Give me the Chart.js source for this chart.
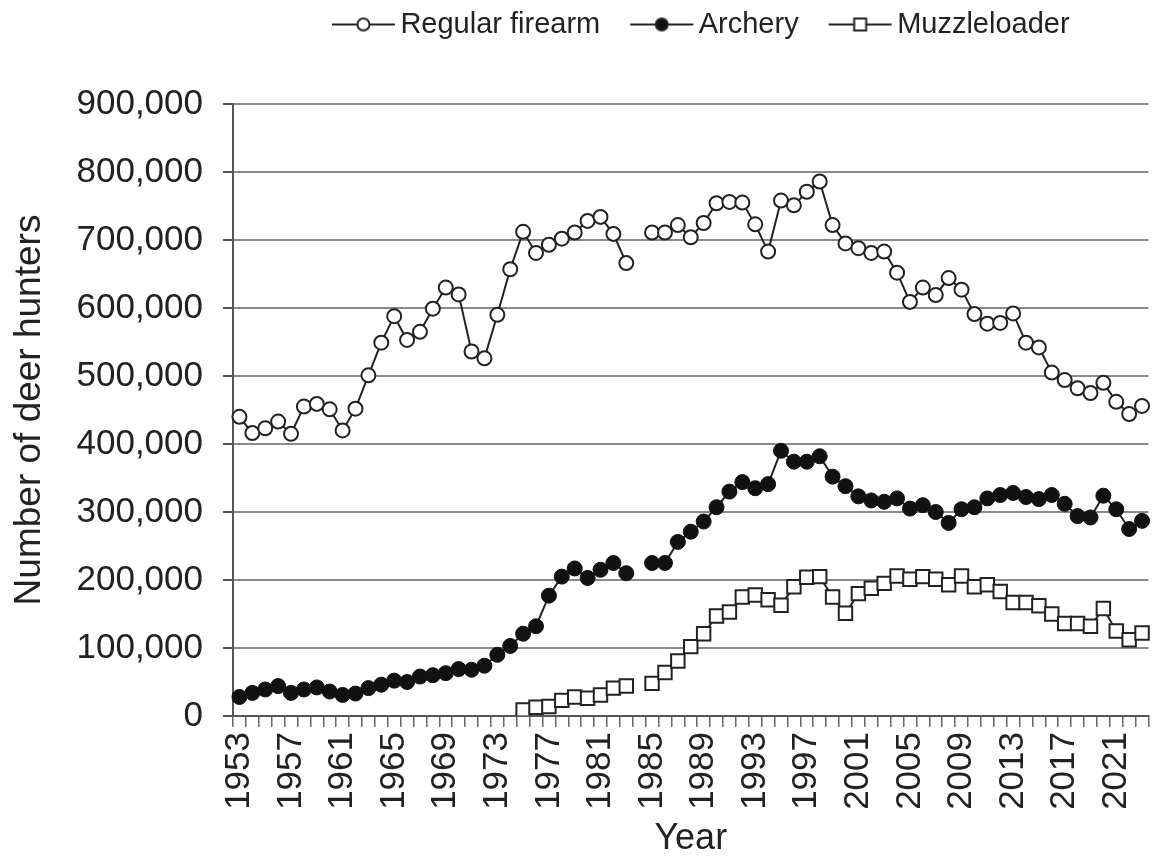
<!DOCTYPE html>
<html>
<head>
<meta charset="utf-8">
<script src="https://cdn.jsdelivr.net/npm/chart.js@4.4.1/dist/chart.umd.min.js"></script>
<style>
html, body { margin: 0; padding: 0; overflow: hidden; background: #fff; }
#wrap { position: absolute; left: 0; top: 0; }
</style>
</head>
<body>
<div id="wrap"><canvas id="chart" width="1160" height="857"></canvas></div>
<script>
var years = ['1953','1954','1955','1956','1957','1958','1959','1960','1961','1962',
  '1963','1964','1965','1966','1967','1968','1969','1970','1971','1972',
  '1973','1974','1975','1976','1977','1978','1979','1980','1981','1982',
  '1983','1984','1985','1986','1987','1988','1989','1990','1991','1992',
  '1993','1994','1995','1996','1997','1998','1999','2000','2001','2002',
  '2003','2004','2005','2006','2007','2008','2009','2010','2011','2012',
  '2013','2014','2015','2016','2017','2018','2019','2020','2021','2022',
  '2023'];

var firearm = [440000,416000,423000,433000,415000,455000,459000,451000,420000,452000,
  501000,549000,588000,553000,565000,599000,630000,620000,536000,526000,
  590000,657000,712000,681000,693000,702000,711000,728000,734000,709000,
  666000,null,711000,711000,722000,704000,725000,754000,756000,755000,
  723000,683000,758000,751000,771000,786000,722000,695000,688000,681000,
  683000,652000,609000,630000,619000,644000,627000,591000,577000,578000,
  592000,549000,542000,505000,494000,482000,475000,490000,462000,444000,
  456000];

var archery = [28000,34000,39000,44000,34000,39000,42000,36000,31000,33000,
  41000,46000,52000,50000,58000,60000,63000,69000,68000,74000,
  90000,103000,121000,132000,177000,205000,217000,203000,215000,225000,
  210000,null,225000,225000,256000,271000,286000,307000,330000,344000,
  335000,341000,390000,374000,374000,382000,352000,338000,323000,317000,
  315000,320000,305000,310000,300000,284000,304000,307000,320000,325000,
  328000,322000,319000,325000,312000,294000,292000,324000,304000,275000,
  287000];

var muzzleloader = [null,null,null,null,null,null,null,null,null,null,
  null,null,null,null,null,null,null,null,null,null,
  null,null,9000,13000,14000,23000,28000,26000,31000,41000,
  44000,null,48000,64000,81000,102000,121000,147000,153000,175000,
  178000,171000,163000,190000,204000,205000,175000,151000,180000,188000,
  195000,206000,201000,205000,201000,193000,206000,190000,193000,183000,
  167000,167000,162000,150000,136000,136000,132000,158000,125000,112000,
  122000];

var seriesNames = ['Regular firearm', 'Archery', 'Muzzleloader'];

var fontFamily = '"Liberation Sans", Arial, Helvetica, sans-serif';
Chart.defaults.font.family = fontFamily;
Chart.defaults.color = '#222';

// little line + marker pictures for the legend
function makeIcon(kind) {
    var c = document.createElement('canvas');
    c.width = 94;
    c.height = 20;
    var g = c.getContext('2d');
    g.strokeStyle = '#222';
    g.lineWidth = 2;
    g.beginPath();
    g.moveTo(30, 10);
    g.lineTo(93, 10);
    g.stroke();
    var cx = 61.5;
    g.beginPath();
    if (kind === 'rect') {
        g.rect(cx - 6, 4, 12, 12);
    } else {
        g.arc(cx, 10, 6, 0, Math.PI * 2);
    }
    g.fillStyle = kind === 'filled' ? '#111' : '#fff';
    g.fill();
    g.stroke();
    return c;
}
var icons = [makeIcon('open'), makeIcon('filled'), makeIcon('rect')];

var legendSpace = {
    id: 'legendSpace',
    beforeInit: function(chart) {
        var fit = chart.legend.fit;
        chart.legend.fit = function() {
            fit.call(this);
            this.height = 104;
        };
    }
};

var ctx = document.getElementById('chart');
var chart = new Chart(ctx, {
    type: 'line',
    data: {
        labels: years,
        datasets: [{
            label: seriesNames[0],
            data: firearm,
            borderColor: '#222',
            borderWidth: 2,
            backgroundColor: '#fff',
            pointStyle: 'circle',
            pointRadius: 7,
            pointBorderWidth: 2,
            pointBackgroundColor: '#fff',
            pointBorderColor: '#222',
            lineTension: 0,
            fill: false,
            spanGaps: false
        }, {
            label: seriesNames[1],
            data: archery,
            borderColor: '#222',
            borderWidth: 2,
            backgroundColor: '#111',
            pointStyle: 'circle',
            pointRadius: 7.5,
            pointBorderWidth: 1,
            pointBackgroundColor: '#111',
            pointBorderColor: '#111',
            lineTension: 0,
            fill: false,
            spanGaps: false
        }, {
            label: seriesNames[2],
            data: muzzleloader,
            borderColor: '#222',
            borderWidth: 2,
            backgroundColor: '#fff',
            pointStyle: 'rect',
            pointRadius: 9.5,
            pointBorderWidth: 2,
            pointBackgroundColor: '#fff',
            pointBorderColor: '#222',
            lineTension: 0,
            fill: false,
            spanGaps: false
        }]
    },
    options: {
        responsive: false,
        animation: false,
        devicePixelRatio: 1,
        layout: { padding: { left: 0, right: 5, top: 0, bottom: 0 } },
        plugins: {
            tooltip: { enabled: false },
            legend: {
                position: 'top',
                fullSize: false,
                labels: {
                    usePointStyle: true,
                    pointStyleWidth: 74,
                    padding: 10,
                    color: '#222',
                    font: { size: 29, lineHeight: 1 },
                    generateLabels: function(chart) {
                        var items = Chart.defaults.plugins.legend.labels.generateLabels(chart);
                        items.forEach(function(item, i) { item.pointStyle = icons[i]; });
                        return items;
                    }
                }
            }
        },
        scales: {
            x: {
                offset: true,
                grid: {
                    offset: true,
                    drawOnChartArea: false,
                    drawTicks: true,
                    tickLength: 11,
                    tickColor: '#666',
                    lineWidth: 1.5
                },
                border: { color: '#555', width: 2 },
                ticks: {
                    autoSkip: false,
                    minRotation: 90,
                    maxRotation: 90,
                    padding: 5,
                    color: '#222',
                    font: { size: 35 },
                    callback: function(value, index) {
                        return index % 4 === 0 ? this.getLabelForValue(value) : '';
                    }
                },
                title: {
                    display: true,
                    text: 'Year',
                    color: '#222',
                    font: { size: 36, lineHeight: 1 },
                    padding: 0
                },
                afterFit: function(scale) {
                    scale.height = 141;
                    scale.paddingLeft = 0;
                    scale.paddingRight = 0;
                }
            },
            y: {
                min: 0,
                max: 900000,
                ticks: {
                    stepSize: 100000,
                    padding: 20,
                    color: '#222',
                    font: { size: 35 },
                    callback: function(v) { return v.toLocaleString('en-US'); }
                },
                grid: {
                    color: '#8a8a8a',
                    lineWidth: 2,
                    tickLength: 10,
                    tickColor: '#555'
                },
                border: { color: '#555', width: 2 },
                title: {
                    display: true,
                    text: 'Number of deer hunters',
                    color: '#222',
                    font: { size: 37 },
                    padding: { top: 8, bottom: 0 }
                },
                afterFit: function(scale) { scale.width = 233; }
            }
        }
    },
    plugins: [legendSpace]
});
</script>
</body>
</html>
